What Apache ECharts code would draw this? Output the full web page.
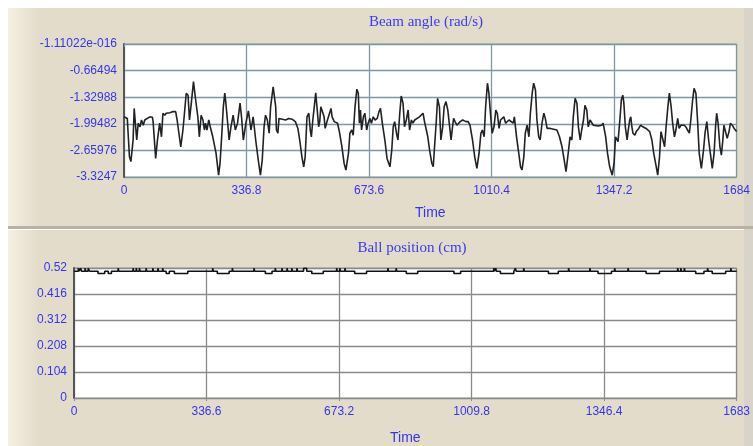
<!DOCTYPE html>
<html><head><meta charset="utf-8">
<script src="https://cdn.jsdelivr.net/npm/echarts@6/dist/echarts.min.js"></script>
<style>html,body{margin:0;padding:0;background:#fff}#c{width:753px;height:446px}</style>
</head><body><div id="c"></div>
<script>
// Beam angle (rad/s) vs Time: [time, value]
const beamAngle = [
[0,-1.82],[9,-1.86],[15,-2.82],[19,-2.94],[25,-2.40],[28,-1.61],[32,-1.65],[35,-2.40],[39,-1.98],[44,-2.07],
[48,-1.90],[53,-2.03],[57,-1.90],[62,-1.94],[71,-1.82],[78,-1.83],[80,-1.94],[87,-2.86],[92,-2.40],[98,-1.98],
[103,-2.32],[107,-1.73],[112,-1.78],[116,-1.73],[126,-1.72],[135,-1.69],[142,-1.69],[146,-1.90],[156,-2.57],[162,-2.15],
[167,-1.65],[171,-1.23],[176,-1.28],[180,-1.90],[185,-1.48],[191,-0.94],[197,-1.40],[203,-1.82],[207,-2.32],[212,-1.78],
[217,-1.90],[221,-2.15],[224,-1.98],[228,-2.15],[233,-1.90],[237,-2.07],[244,-2.32],[253,-2.73],[260,-3.28],[264,-2.98],
[269,-2.23],[273,-1.57],[277,-1.23],[280,-1.48],[285,-1.98],[289,-2.40],[294,-2.07],[300,-1.78],[306,-2.15],[312,-1.98],
[319,-1.48],[323,-1.82],[328,-2.40],[335,-1.98],[342,-1.67],[349,-2.15],[355,-1.82],[362,-2.40],[369,-2.90],[375,-3.28],
[380,-2.90],[385,-2.07],[389,-1.78],[394,-1.90],[399,-2.23],[403,-1.57],[410,-1.07],[417,-1.57],[419,-2.15],[423,-2.23],
[426,-1.86],[430,-1.90],[435,-1.88],[444,-1.90],[453,-1.86],[462,-1.88],[471,-1.94],[478,-2.11],[483,-2.40],[489,-2.82],
[494,-3.07],[498,-2.82],[503,-1.82],[508,-1.73],[512,-2.15],[515,-2.32],[519,-1.90],[523,-1.57],[527,-1.22],[530,-1.53],
[535,-2.07],[538,-1.94],[541,-1.57],[546,-1.53],[550,-1.82],[553,-2.11],[558,-1.94],[562,-1.82],[569,-1.61],[572,-1.82],
[578,-1.94],[581,-1.90],[587,-1.98],[592,-2.19],[599,-2.57],[605,-2.98],[610,-3.15],[617,-2.73],[621,-2.23],[626,-2.15],
[630,-2.28],[635,-1.57],[640,-1.13],[644,-1.23],[647,-1.98],[650,-1.65],[653,-2.15],[658,-1.82],[662,-1.73],[667,-2.15],
[671,-1.98],[676,-1.86],[680,-1.98],[685,-1.82],[690,-1.90],[696,-1.86],[701,-1.69],[705,-1.61],[710,-1.98],[717,-2.40],
[723,-2.86],[731,-3.07],[736,-2.65],[740,-2.07],[744,-1.94],[749,-2.23],[753,-2.40],[758,-1.73],[762,-1.30],[767,-1.48],
[771,-2.07],[776,-1.90],[781,-1.65],[785,-2.15],[790,-1.90],[794,-1.98],[799,-1.90],[803,-1.94],[812,-1.82],[817,-1.78],
[822,-1.73],[826,-1.94],[831,-2.15],[835,-2.32],[840,-2.65],[846,-2.98],[850,-3.07],[853,-2.65],[858,-1.98],[862,-1.36],
[867,-1.57],[871,-2.40],[876,-2.07],[880,-1.57],[885,-1.44],[890,-1.65],[894,-1.98],[899,-2.40],[903,-2.07],[906,-1.86],
[910,-1.94],[915,-2.03],[919,-2.07],[924,-1.94],[931,-1.90],[940,-1.94],[946,-1.94],[951,-2.03],[958,-2.40],[964,-2.82],
[970,-3.11],[976,-2.73],[981,-2.23],[985,-2.15],[990,-2.32],[994,-1.57],[999,-0.98],[1003,-1.23],[1008,-1.82],[1012,-2.23],
[1017,-2.07],[1022,-1.65],[1026,-1.73],[1031,-2.11],[1035,-1.90],[1040,-1.94],[1044,-1.82],[1049,-1.98],[1053,-1.94],[1058,-1.90],
[1063,-1.94],[1070,-1.98],[1073,-1.82],[1079,-2.32],[1085,-2.73],[1090,-3.07],[1094,-3.15],[1099,-2.82],[1103,-2.23],[1108,-2.03],
[1113,-2.32],[1117,-1.73],[1122,-1.23],[1126,-0.98],[1131,-1.15],[1135,-1.90],[1140,-2.32],[1144,-2.40],[1149,-1.98],[1154,-1.73],
[1158,-1.86],[1163,-2.11],[1172,-2.11],[1181,-2.13],[1190,-2.15],[1197,-2.32],[1204,-2.57],[1210,-2.90],[1215,-3.19],[1222,-2.65],
[1226,-2.32],[1231,-2.40],[1235,-1.82],[1240,-1.36],[1245,-1.48],[1249,-2.07],[1254,-2.40],[1258,-2.15],[1263,-1.90],[1267,-1.53],
[1272,-1.65],[1276,-2.07],[1281,-1.90],[1285,-1.86],[1290,-2.03],[1294,-2.07],[1304,-2.05],[1313,-2.03],[1317,-1.98],[1324,-2.32],
[1329,-2.73],[1335,-3.07],[1342,-3.28],[1347,-2.98],[1351,-2.32],[1354,-2.28],[1358,-2.44],[1363,-1.90],[1367,-1.40],[1371,-1.28],
[1374,-1.48],[1378,-2.07],[1383,-2.40],[1385,-2.23],[1390,-1.90],[1393,-1.82],[1396,-2.07],[1399,-2.23],[1404,-2.28],[1408,-2.19],
[1415,-2.11],[1420,-2.03],[1426,-2.07],[1435,-2.11],[1445,-2.19],[1451,-2.40],[1456,-2.73],[1463,-3.07],[1467,-3.28],[1472,-2.82],
[1476,-2.19],[1481,-2.23],[1486,-2.57],[1490,-2.07],[1495,-1.57],[1499,-1.23],[1504,-1.57],[1508,-1.98],[1513,-2.32],[1517,-2.15],
[1522,-1.86],[1526,-2.11],[1531,-2.03],[1536,-2.07],[1540,-2.03],[1545,-2.08],[1549,-2.15],[1554,-2.23],[1558,-1.90],[1563,-1.40],
[1567,-1.11],[1572,-1.23],[1577,-1.98],[1581,-2.73],[1587,-3.11],[1593,-2.65],[1597,-2.23],[1602,-1.94],[1607,-2.40],[1613,-2.82],
[1617,-3.11],[1622,-2.73],[1626,-2.07],[1629,-1.73],[1633,-1.98],[1638,-2.57],[1642,-2.78],[1646,-2.40],[1649,-2.03],[1654,-2.07],
[1658,-2.36],[1663,-2.19],[1667,-1.98],[1672,-2.03],[1677,-2.11],[1684,-2.19]
];

// Ball position (cm) vs Time: [time, value] (held until next point)
const ballPosition = [
[0,0.507],[11,0.519],[13,0.507],[17,0.519],[19,0.507],[28,0.519],[30,0.507],[36,0.519],[40,0.507],[61,0.498],
[78,0.507],[87,0.498],[95,0.507],[112,0.519],[114,0.507],[150,0.519],[152,0.507],[158,0.519],[160,0.507],[166,0.519],
[168,0.507],[183,0.519],[185,0.507],[200,0.519],[202,0.507],[213,0.519],[215,0.507],[225,0.519],[227,0.507],[234,0.498],
[242,0.507],[255,0.498],[289,0.507],[352,0.519],[354,0.507],[364,0.498],[394,0.507],[402,0.519],[404,0.507],[457,0.519],
[459,0.507],[486,0.498],[503,0.507],[511,0.519],[513,0.507],[528,0.519],[530,0.507],[541,0.519],[543,0.507],[553,0.519],
[555,0.507],[566,0.519],[568,0.507],[583,0.519],[591,0.507],[604,0.498],[633,0.507],[667,0.519],[669,0.507],[675,0.519],
[677,0.507],[688,0.519],[690,0.507],[713,0.498],[743,0.507],[797,0.519],[799,0.507],[818,0.519],[820,0.507],[844,0.498],
[873,0.507],[965,0.498],[982,0.507],[1066,0.519],[1068,0.507],[1071,0.519],[1073,0.507],[1083,0.498],[1117,0.507],[1121,0.519],
[1123,0.507],[1142,0.519],[1144,0.507],[1205,0.498],[1230,0.507],[1256,0.519],[1258,0.507],[1310,0.519],[1312,0.507],[1331,0.498],
[1365,0.507],[1373,0.519],[1375,0.507],[1407,0.519],[1409,0.507],[1453,0.498],[1487,0.507],[1533,0.519],[1535,0.507],[1541,0.519],
[1543,0.507],[1550,0.519],[1552,0.507],[1579,0.498],[1600,0.507],[1609,0.519],[1611,0.507],[1621,0.498],[1655,0.507],[1668,0.519],
[1670,0.507],[1683,0.507]
];

const beamYLabels = ['-3.3247','-2.65976','-1.99482','-1.32988','-0.66494','-1.11022e-016'];
const beamXLabels = ['0','336.8','673.6','1010.4','1347.2','1684'];
const ballYLabels = ['0','0.104','0.208','0.312','0.416','0.52'];
const ballXLabels = ['0','336.6','673.2','1009.8','1346.4','1683'];
const titles = ['Beam angle (rad/s)','Ball position (cm)'];
const xName = 'Time';

const labelBlue = '#3434EC';
const chart = echarts.init(document.getElementById('c'), null, {renderer:'canvas'});

function idxLabel(arr, min, step){
  return function(v){ const i = Math.round((v - min) / step); return arr[i] !== undefined ? arr[i] : ''; };
}

const option = {
  backgroundColor: '#ffffff',
  animation: false,
  graphic: [
    {type:'rect', z:-10, shape:{x:8,y:8,width:745,height:219}, style:{fill:'#E4DCCB'}},
    {type:'rect', z:-10, shape:{x:8,y:230,width:745,height:216}, style:{fill:'#E4DCCB'}},
    {type:'rect', z:-9, shape:{x:8,y:8,width:30,height:219}, style:{fill:new echarts.graphic.LinearGradient(0,0,1,0,[{offset:0,color:'#F6F0E3'},{offset:1,color:'#E4DCCB'}])}},
    {type:'rect', z:-9, shape:{x:8,y:230,width:30,height:216}, style:{fill:new echarts.graphic.LinearGradient(0,0,1,0,[{offset:0,color:'#F6F0E3'},{offset:1,color:'#E4DCCB'}])}},
    {type:'rect', z:-9, shape:{x:744,y:8,width:9,height:438}, style:{fill:'#D9D4CA'}},
    {type:'rect', z:-9, shape:{x:8,y:226,width:745,height:3}, style:{fill:'#B9B2A4'}},
    {type:'text', x:426, y:22, style:{text:titles[0], fill:'#3A3AEE', font:'15px "Liberation Serif", serif', align:'center', verticalAlign:'middle'}},
    {type:'text', x:412, y:248, style:{text:titles[1], fill:'#3A3AEE', font:'15px "Liberation Serif", serif', align:'center', verticalAlign:'middle'}}
  ],
  grid: [
    {left:124, right:12, top:44, height:133, show:true, backgroundColor:'#ffffff', borderColor:'#A0A0A0', borderWidth:1},
    {left:74, right:12, top:268, height:131, show:true, backgroundColor:'#ffffff', borderColor:'#A0A0A0', borderWidth:1}
  ],
  xAxis: [
    {type:'value', gridIndex:0, min:0, max:1684, interval:336.8,
     name:xName, nameLocation:'middle', nameGap:29, nameTextStyle:{color:labelBlue, fontSize:14, fontFamily:'Liberation Sans'},
     axisLine:{show:false}, axisTick:{show:true, length:3, lineStyle:{color:'#7D98A3'}},
     axisLabel:{color:labelBlue, fontSize:12, fontFamily:'Liberation Sans', margin:8, formatter:idxLabel(beamXLabels,0,336.8), showMaxLabel:true, showMinLabel:true},
     splitLine:{show:true, lineStyle:{color:'#7D98A3', width:1.3}}},
    {type:'value', gridIndex:1, min:0, max:1683, interval:336.6,
     name:xName, nameLocation:'middle', nameGap:33, nameTextStyle:{color:labelBlue, fontSize:14, fontFamily:'Liberation Sans'},
     axisLine:{show:false}, axisTick:{show:true, length:3, lineStyle:{color:'#8A8A8A'}},
     axisLabel:{color:labelBlue, fontSize:12, fontFamily:'Liberation Sans', margin:8, formatter:idxLabel(ballXLabels,0,336.6), showMaxLabel:true, showMinLabel:true},
     splitLine:{show:true, lineStyle:{color:'#8A8A8A', width:1.3}}}
  ],
  yAxis: [
    {type:'value', gridIndex:0, min:-3.3247, max:0, interval:0.66494,
     axisLine:{show:true, lineStyle:{color:'#555555', width:2}}, axisTick:{show:false},
     axisLabel:{color:labelBlue, fontSize:12, fontFamily:'Liberation Sans', margin:7, formatter:idxLabel(beamYLabels,-3.3247,0.66494), showMaxLabel:true, showMinLabel:true},
     splitLine:{show:true, lineStyle:{color:'#7D98A3', width:1.3}}},
    {type:'value', gridIndex:1, min:0, max:0.52, interval:0.104,
     axisLine:{show:true, lineStyle:{color:'#555555', width:2}}, axisTick:{show:false},
     axisLabel:{color:labelBlue, fontSize:12, fontFamily:'Liberation Sans', margin:7, formatter:idxLabel(ballYLabels,0,0.104), showMaxLabel:true, showMinLabel:true},
     splitLine:{show:true, lineStyle:{color:'#8A8A8A', width:1.3}}}
  ],
  series: [
    {type:'line', xAxisIndex:0, yAxisIndex:0, data:beamAngle, showSymbol:false, smooth:false,
     lineStyle:{color:'#222222', width:1.6}},
    {type:'line', xAxisIndex:1, yAxisIndex:1, data:ballPosition, showSymbol:false, step:'end',
     lineStyle:{color:'#111111', width:1.6}}
  ]
};
chart.setOption(option);
</script>
</body></html>
